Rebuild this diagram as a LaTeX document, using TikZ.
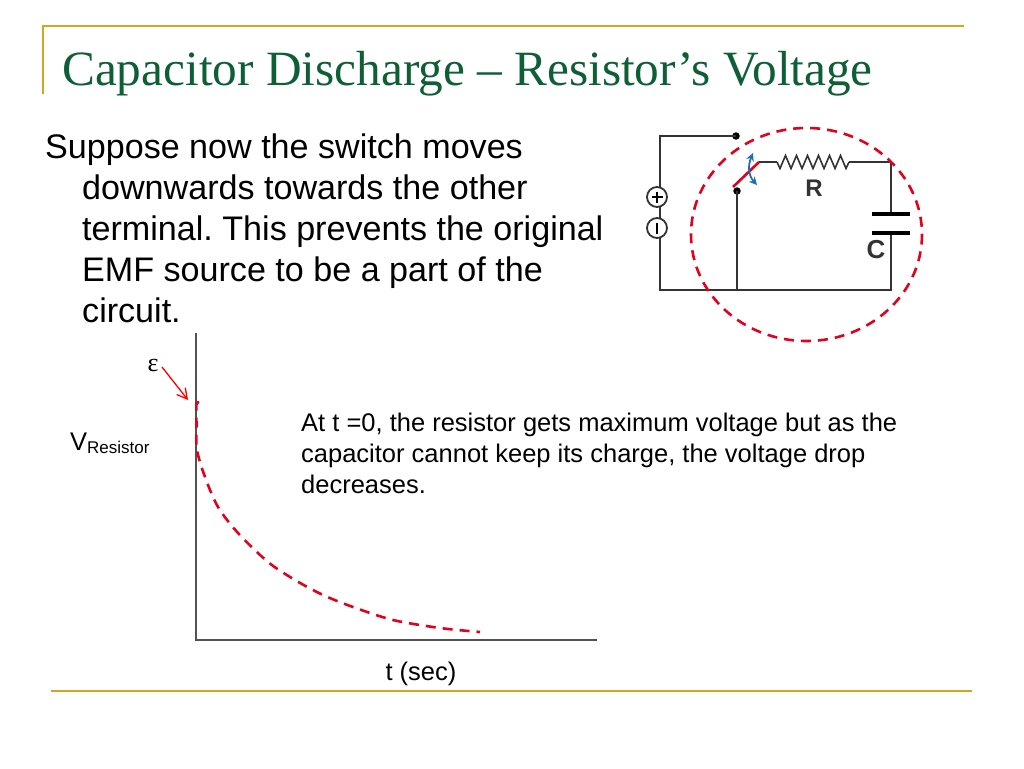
\documentclass[tikz,border=0pt]{standalone}
\usepackage{fontspec}
\setmainfont{Liberation Sans}
\newfontfamily\titlefont{Liberation Serif}
\usetikzlibrary{arrows.meta}
\frenchspacing
\definecolor{gold}{HTML}{D4A51E}
\definecolor{titlegreen}{HTML}{0F5F36}
\definecolor{dashred}{HTML}{E2001A}
\definecolor{wire}{HTML}{333333}
\definecolor{swblue}{HTML}{1F6FB8}
\tikzset{
  rule/.style={draw=gold,line width=2.2pt},
  wireline/.style={draw=wire,line width=2pt},
  axisline/.style={draw=wire!85,line width=1.2pt},
  reddash/.style={draw=dashred,line width=2.6pt,dash pattern=on 10pt off 7pt},
  termdot/.style={circle,fill=black,inner sep=0pt,minimum size=7.5pt},
  srcsign/.style={circle,draw=wire,line width=1.8pt,fill=white,inner sep=0pt,minimum size=20pt},
  plate/.style={draw=black,line width=3.8pt},
  txt/.style={inner sep=0pt,anchor=base west,align=left},
  bodytxt/.style={txt,font=\fontsize{34.1}{41}\selectfont},
  smalltxt/.style={txt,font=\fontsize{25.5}{31}\selectfont},
}
\begin{document}
\begin{tikzpicture}[x=1pt,y=-1pt]
\useasboundingbox (0,0) rectangle (1024,768);
\draw[rule] (43,94) -- (43,26) -- (964,26);
\draw[rule] (51,691) -- (972,691);
\node[txt,text=titlegreen,font=\titlefont\fontsize{49.3}{54}\selectfont] (title) at (62,85) {Capacitor Discharge – Resistor’s Voltage};
\node[bodytxt] (l1) at (45,158) {Suppose now the switch moves};
\node[bodytxt] (l2) at (82,199) {downwards towards the other};
\node[bodytxt] (l3) at (82,240) {terminal. This prevents the original};
\node[bodytxt] (l4) at (82,281) {EMF source to be a part of the};
\node[bodytxt] (l5) at (82,322) {circuit.};
% circuit
\coordinate (tl) at (660,136);
\coordinate (bl) at (660,290);
\coordinate (br) at (891,290);
\coordinate (tr) at (891,162);
\coordinate (jb) at (737,290);
\coordinate (swtip) at (759,162);
\coordinate (rs) at (777,162);
\coordinate (re) at (849,162);
\coordinate (pa) at (891,214);
\coordinate (pb) at (891,233);
\node[termdot] (t1) at (736,136) {};
\node[termdot] (t2) at (737,191) {};
\draw[wireline,line join=miter] (t1.center) -- (tl) -- (bl) -- (br) -- (pb);
\draw[wireline,line join=miter] (pa) -- (tr) -- (re);
\draw[wireline] (rs) -- (swtip);
\draw[wireline] (t2.center) -- (jb);
\draw[draw=wire,line width=1.6pt,line join=miter] (rs) -- ++(3,6.5) -- ++(5.5,-13) -- ++(5.5,13) -- ++(5.5,-13) -- ++(5.5,13) -- ++(5.5,-13) -- ++(5.5,13) -- ++(5.5,-13) -- ++(5.5,13) -- ++(5.5,-13) -- ++(5.5,13) -- ++(5.5,-13) -- ++(5.5,13) -- (re);
\draw[plate] (872,214) -- (910,214);
\draw[plate] (872,233) -- (910,233);
\node[srcsign] (plus) at (657,197) {};
\node[srcsign] (minus) at (657,228) {};
\draw[draw=black,line width=2.2pt] (651.5,197) -- (662.5,197) (657,191.5) -- (657,202.5);
\draw[draw=black,line width=2.2pt] (657,222.5) -- (657,233.5);
\draw[draw=dashred,line width=2.6pt] (733,187) -- (swtip);
\draw[draw=swblue,line width=1.8pt,{Stealth[length=8pt,width=8pt]}-{Stealth[length=8pt,width=8pt]}] (753,153) .. controls (748,165) and (748,175) .. (757,185);
\node[font=\bfseries\fontsize{24}{26}\selectfont,text=black!80] (rl) at (814,188) {R};
\node[font=\bfseries\fontsize{26}{28}\selectfont,text=black!80] (cl) at (876,250) {C};
\draw[reddash] (806.5,234.5) ellipse [x radius=115.5,y radius=106.5];
% graph
\coordinate (top) at (196,333);
\coordinate (org) at (196,640);
\coordinate (xe) at (597,640);
\draw[axisline] (top) -- (org) -- (xe);
\node[font=\titlefont\fontsize{26}{30}\selectfont] (eps) at (153,365) {ε};
\coordinate (ae) at (188,400);
\draw[draw=red,line width=1.3pt,-{Straight Barb[length=10pt,width=11pt]}] (162,367) -- (ae);
\node[txt,font=\fontsize{25.5}{28}\selectfont] (vr) at (70,450) {V\raisebox{-3.5pt}{\fontsize{17}{18}\selectfont Resistor}};
\draw[reddash] plot[smooth,tension=0.5] coordinates {(199,403) (196.5,404) (196.5,425) (197,450) (205,477) (218,507) (238,533) (268,562) (295,580) (323,595) (353,607) (393,620) (440,628) (480,632)};
\node[smalltxt] (a1) at (301,431) {At t =0, the resistor gets maximum voltage but as the};
\node[smalltxt] (a2) at (301,462) {capacitor cannot keep its charge, the voltage drop};
\node[smalltxt] (a3) at (301,493) {decreases.};
\node[font=\fontsize{25.5}{28}\selectfont,anchor=base] (ts) at (421,680) {t (sec)};
\end{tikzpicture}
\end{document}
